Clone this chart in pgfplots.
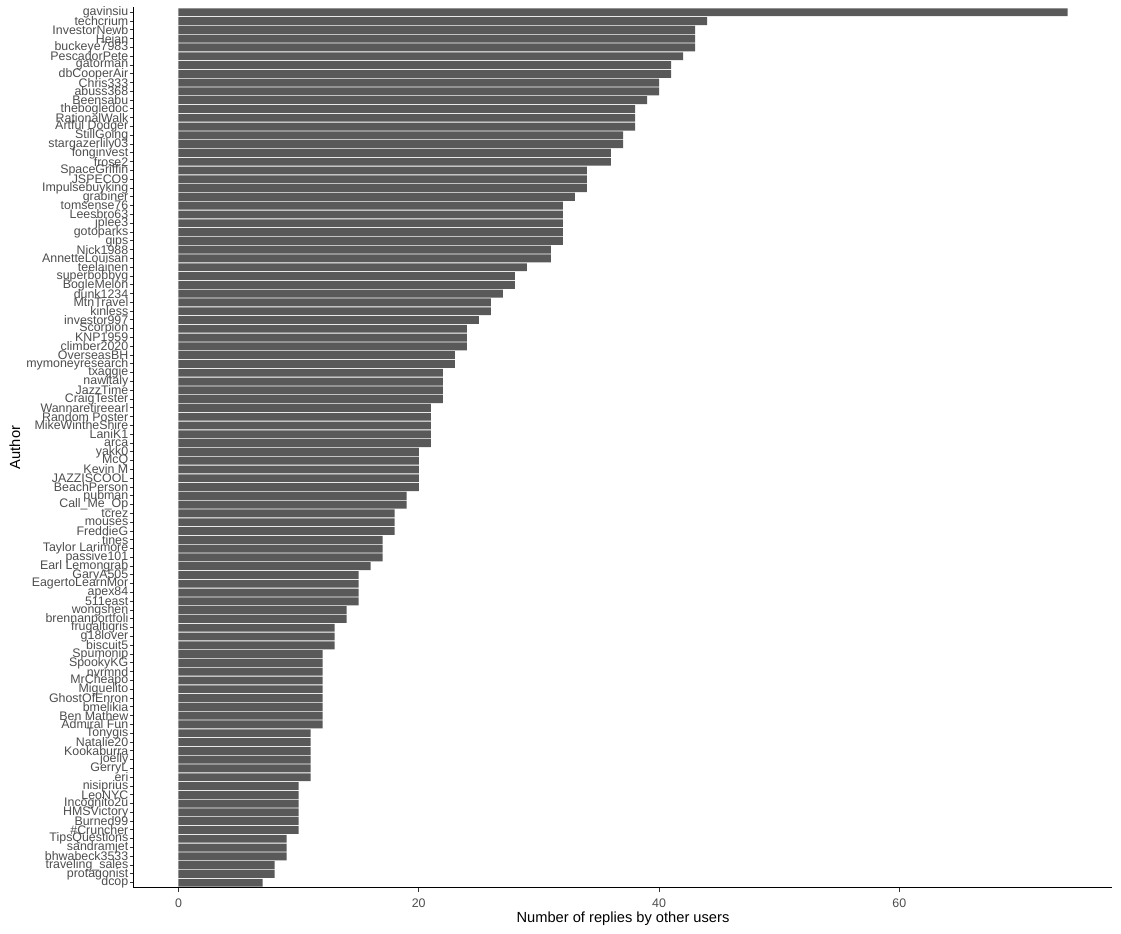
\documentclass[border=0pt]{standalone}
\usepackage{fontspec}
\setmainfont{Liberation Sans}
\usepackage{pgfplots}
\pgfplotsset{compat=1.18}
\definecolor{barc}{HTML}{595959}
\definecolor{ticklab}{HTML}{4D4D4D}
\definecolor{tickc}{HTML}{333333}
\begin{document}
\begin{tikzpicture}
\begin{axis}[
  scale only axis, width=733.5pt, height=660.75pt,
  xbar, bar width=0.9,
  xmin=-3.7, xmax=77.7, ymin=0.4, ymax=100.6,
  axis x line*=bottom, axis y line*=left,
  axis line style={-, black, line width=0.75pt},
  xtick={0,20,40,60}, ytick={1,...,100},
  yticklabels={dcop,protagonist,traveling\_sales,bhwabeck3533,sandramjet,TipsQuestions,\#Cruncher,Burned99,HMSVictory,Incognito2u,LeoNYC,nisiprius,eri,GerryL,joelly,Kookaburra,Natalie20,Tonygis,{Admiral Fun},{Ben Mathew},bmelikia,GhostOfEnron,Miguelito,MrCheapo,nvrmnd,SpookyKG,Spumonip,biscuit5,g18lover,frugaltigris,brennanportfoli,wongshen,511east,apex84,EagertoLearnMor,GaryA505,{Earl Lemongrab},passive101,{Taylor Larimore},tines,FreddieG,mouses,tcrez,Call\_Me\_Op,pubman,BeachPerson,JAZZISCOOL,{Kevin M},McQ,yakk0,arca,LaniK1,MikeWintheShire,{Random Poster},Wannaretireearl,CraigTester,JazzTime,nawitaly,txaggie,mymoneyresearch,OverseasBH,climber2020,KNP1959,Scorpion,investor997,kinless,MtnTravel,dunk1234,BogleMelon,superbobbyg,teelainen,AnnetteLouisan,Nick1988,gips,gotoparks,jplee3,Leesbro63,tomsense76,grabiner,Impulsebuyking,JSPECO9,SpaceGriffin,frose2,fonginvest,stargazerlily03,StillGoing,{Artful Dodger},RationalWalk,thebogledoc,Beensabu,abuss368,Chris333,dbCooperAir,gatorman,PescadorPete,buckeye7983,Heian,InvestorNewb,techcrium,gavinsiu},
  tick align=outside, major tick length=2.75pt,
  tick style={color=tickc, line width=0.75pt},
  ticklabel style={font=\fontsize{9.3}{9.5}\selectfont, text=ticklab},
  yticklabel style={xshift=2pt},
  xticklabel style={yshift=-2pt},
  /pgf/number format/assume math mode=true,
  xlabel={Number of replies by other users}, ylabel={Author},
  every axis y label/.style={at={(axis description cs:-0.1217,0.5)},rotate=90,anchor=center,font=\fontsize{11}{12}\selectfont},
  every axis x label/.style={at={(axis description cs:0.5,-0.0345)},anchor=center,font=\fontsize{11}{12}\selectfont},
]
\addplot[fill=barc, draw=none] coordinates {
(7,1) (8,2) (8,3) (9,4) (9,5) (9,6) (10,7) (10,8) (10,9) (10,10)
(10,11) (10,12) (11,13) (11,14) (11,15) (11,16) (11,17) (11,18) (12,19) (12,20)
(12,21) (12,22) (12,23) (12,24) (12,25) (12,26) (12,27) (13,28) (13,29) (13,30)
(14,31) (14,32) (15,33) (15,34) (15,35) (15,36) (16,37) (17,38) (17,39) (17,40)
(18,41) (18,42) (18,43) (19,44) (19,45) (20,46) (20,47) (20,48) (20,49) (20,50)
(21,51) (21,52) (21,53) (21,54) (21,55) (22,56) (22,57) (22,58) (22,59) (23,60)
(23,61) (24,62) (24,63) (24,64) (25,65) (26,66) (26,67) (27,68) (28,69) (28,70)
(29,71) (31,72) (31,73) (32,74) (32,75) (32,76) (32,77) (32,78) (33,79) (34,80)
(34,81) (34,82) (36,83) (36,84) (37,85) (37,86) (38,87) (38,88) (38,89) (39,90)
(40,91) (40,92) (41,93) (41,94) (42,95) (43,96) (43,97) (43,98) (44,99) (74,100)
};
\end{axis}
\pgfresetboundingbox
\path (-100.5pt,-34.5pt) rectangle (740.25pt,666pt);
\end{tikzpicture}
\end{document}
